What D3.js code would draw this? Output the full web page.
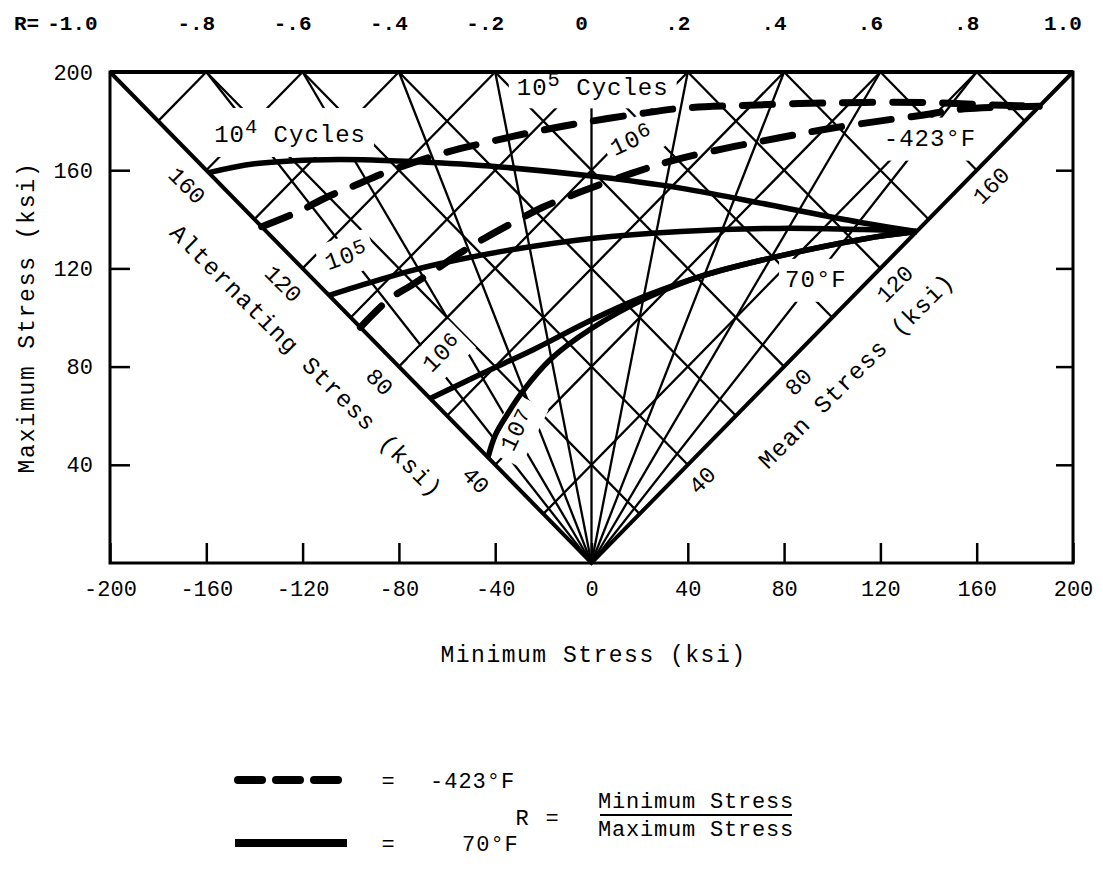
<!DOCTYPE html>
<html><head><meta charset="utf-8">
<script src="https://cdn.jsdelivr.net/npm/d3@7"></script>
<style>
body{margin:0;background:#fff;}
svg text{font-family:"Liberation Mono","DejaVu Sans Mono",monospace;fill:#000;}
</style></head><body>
<svg id="chart" width="1103" height="890"></svg>
<script>
// ---------- data ----------
const xTicks = [-200,-160,-120,-80,-40,0,40,80,120,160,200];
const yTicks = [40,80,120,160,200];
const rValues = [-1,-0.8,-0.6,-0.4,-0.2,0,0.2,0.4,0.6,0.8,1];
const rLabels = ["-1.0","-.8","-.6","-.4","-.2","0",".2",".4",".6",".8","1.0"];
const saGrid = [20,40,60,80,100,120,140,160,180];
const smGrid = [20,40,60,80,100,120,140,160,180];
const rGrid = [-0.8,-0.6,-0.4,-0.2,0,0.2,0.4,0.6,0.8];
const altLabels = [40,80,120,160];
const meanLabels = [40,80,120,160];

// 70°F (solid) constant-life curves: [min stress, max stress]
const solid1e4 = [[-159,159],[-140,162.6],[-116,164.2],[-95,164.3],[-74,163.5],[-39,161.4],[0,157.6],[37,152.7],[78,145.1],[113,138.5],[135,135]];
const solid1e5 = [[-109,109],[-90,114.8],[-74,119.3],[-55,123.6],[-32,127.8],[0,132.2],[37,135],[78,136.3],[113,135.8],[135,135]];
const solid1e6 = [[-67,67],[-45,77.4],[-24,87],[0,99],[23,109],[46,117],[77,124.8],[113,132],[135,135]];
const solid1e7 = [[-43,43],[-40,52],[-35,60.5],[-28.5,70],[-17,83],[0,95.5],[23,108],[46,117],[77,124.8],[113,132],[135,135]];
// -423°F (dashed) curves
const dash1e5 = [[-137,137],[-122,143],[-110,149],[-99,153.5],[-85,159.3],[-60,167.4],[-45,171],[-24,175.6],[-3.5,179.4],[20,183],[37,185.2],[60,186.3],[99,187.4],[139,187.6],[160,186.8],[186,186]];
const dash1e6 = [[-96,96],[-84,107.5],[-75,113],[-64,120],[-55,126],[-44,132.5],[-30,140],[-20,145],[-5,151],[16,158.5],[34,164],[56,169],[77,173],[96,176.5],[118,179.8],[138,182.5],[155,185],[186,186]];

// ---------- setup ----------
const svg = d3.select("#chart");
const x = d3.scaleLinear().domain([-200,200]).range([110,1073]);
const y = d3.scaleLinear().domain([0,200]).range([563,72]);

const gGrid = svg.append("g");
const gLabels = svg.append("g");
const gEdges = svg.append("g");
const gCurves = svg.append("g");

// grid lines
const gridLine = (p, q) => gGrid.append("line")
  .attr("x1", x(p[0])).attr("y1", y(p[1])).attr("x2", x(q[0])).attr("y2", y(q[1]))
  .attr("stroke","#000").attr("stroke-width",2.3);
saGrid.forEach(s => gridLine([-s,s],[200-2*s,200]));
smGrid.forEach(s => gridLine([s,s],[2*s-200,200]));
rGrid.forEach(r => gridLine([0,0],[200*r,200]));

// annotation labels with white masks
function label(cx, cy, rot, parts, opts={}) {
  const size = opts.size || 24, pad = opts.pad || [6,6], raise = opts.raise==null ? 9 : opts.raise;
  const g = gLabels.append("g").attr("transform",`translate(${x(cx)},${y(cy)}) rotate(${rot})`);
  const rect = g.append("rect").attr("fill","#fff");
  const t = g.append("text").attr("text-anchor","middle").attr("dy","0.35em")
    .attr("font-size",size).attr("letter-spacing", opts.ls==null?1:opts.ls);
  parts.forEach(p => {
    if (p.sup) t.append("tspan").attr("dy",-raise).attr("font-size",size*0.85).text(p.t);
    else t.append("tspan").attr("dy", p.after? raise:0).text(p.t);
  });
  const b = t.node().getBBox();
  rect.attr("x",b.x-pad[0]).attr("y",b.y-pad[1]).attr("width",b.width+2*pad[0]).attr("height",b.height+2*pad[1]);
}
label(-125.2,171.5,0,[{t:"10"},{t:"4",sup:true},{t:" Cycles",after:true}],{pad:[8,8]});
label(0.5,190.5,0,[{t:"10"},{t:"5",sup:true},{t:" Cycles",after:true}],{pad:[8,6]});
label(-100.7,122.2,-20,[{t:"10"},{t:"5",sup:true}],{pad:[6,5],raise:5});
label(18,169.5,-25,[{t:"10"},{t:"6",sup:true}],{pad:[6,5],raise:5});
label(-60,83.5,-45,[{t:"10"},{t:"6",sup:true}],{pad:[6,6],raise:4});
label(-28.5,53,-64,[{t:"10"},{t:"7",sup:true}],{pad:[10,6],raise:2});
label(140.6,170,0,[{t:"-423°F"}],{pad:[6,8]});
label(93.2,112.5,0,[{t:"70°F"}],{pad:[6,8]});

// edge labels (outside triangle)
function edgeText(px, py, rot, txt, size, ls) {
  svg.append("text").attr("transform",`translate(${px},${py}) rotate(${rot})`)
    .attr("text-anchor","middle").attr("dy","0.35em").attr("font-size",size)
    .attr("letter-spacing",ls).text(txt);
}
altLabels.forEach(v => edgeText(x(-v)-19, y(v)+15, 45, v, 23, 0));
meanLabels.forEach(v => edgeText(x(v)+14, y(v)+15, -45, v, 23, 0));
edgeText(x(-100)-44, y(100)+43, 45, "Alternating Stress (ksi)", 24, 1.2);
edgeText(x(94)+38, y(94)+38, -45, "Mean Stress (ksi)", 24, 1.2);

// frame & axes
svg.append("rect").attr("x",x(-200)).attr("y",y(200)).attr("width",x(200)-x(-200)).attr("height",y(0)-y(200))
  .attr("fill","none").attr("stroke","#000").attr("stroke-width",3);
const ax = svg.append("g").attr("transform",`translate(0,${y(0)})`)
  .call(d3.axisBottom(x).tickValues(xTicks).tickSize(-20).tickPadding(17).tickFormat(d=>d));
const ay = svg.append("g").attr("transform",`translate(${x(-200)},0)`)
  .call(d3.axisLeft(y).tickValues(yTicks).tickSize(-20).tickPadding(17).tickFormat(d=>d));
const ar = svg.append("g").attr("transform",`translate(${x(200)},0)`)
  .call(d3.axisRight(y).tickValues(yTicks.filter(v=>v<200)).tickSize(-17).tickFormat(""));
[ax,ay,ar].forEach(a => {
  a.select(".domain").remove();
  a.selectAll(".tick line").attr("stroke","#000").attr("stroke-width",2.5);
  a.selectAll("text").attr("font-size",22).attr("font-family","Liberation Mono").attr("fill","#000");
});

// R scale on top
const rFont = 21;
const rHead = svg.append("text").attr("x",14).attr("y",30).attr("font-size",rFont).attr("font-weight","bold").text("R=");
const rHeadEnd = rHead.node().getBBox().x + rHead.node().getBBox().width;
svg.append("g").selectAll("text").data(rValues).join("text")
  .attr("x",(d,i)=> i===0 ? rHeadEnd + 8 : x(d*200)-10)
  .attr("text-anchor",(d,i)=> i===0 ? "start" : "middle")
  .attr("y",30).attr("font-size",rFont).attr("font-weight","bold")
  .text((d,i)=>rLabels[i]);

// axis titles
svg.append("text").attr("x",x(0)+2).attr("y",662).attr("text-anchor","middle")
  .attr("font-size",23).attr("letter-spacing",1.5).text("Minimum Stress (ksi)");
svg.append("text").attr("transform",`translate(34,${y(100)}) rotate(-90)`).attr("text-anchor","middle")
  .attr("font-size",23).attr("letter-spacing",1.8).text("Maximum Stress (ksi)");

// triangle edges
gEdges.append("path").attr("d",`M${x(-200)},${y(200)}L${x(0)},${y(0)}L${x(200)},${y(200)}`)
  .attr("fill","none").attr("stroke","#000").attr("stroke-width",4).attr("stroke-linejoin","miter");
gEdges.append("line").attr("x1",x(-200)).attr("x2",x(200)).attr("y1",y(200)).attr("y2",y(200))
  .attr("stroke","#000").attr("stroke-width",4);

// curves
const line = d3.line().x(d=>x(d[0])).y(d=>y(d[1])).curve(d3.curveCatmullRom.alpha(0.5));
[solid1e4,solid1e5,solid1e6,solid1e7].forEach(c => gCurves.append("path").attr("d",line(c))
  .attr("fill","none").attr("stroke","#000").attr("stroke-width",5.5));
[dash1e5,dash1e6].forEach(c => gCurves.append("path").attr("d",line(c))
  .attr("fill","none").attr("stroke","#000").attr("stroke-width",7)
  .attr("stroke-dasharray","30,20").attr("stroke-linecap","round"));

// legend
const lg = svg.append("g");
lg.append("line").attr("x1",238).attr("x2",345).attr("y1",780).attr("y2",780)
  .attr("stroke","#000").attr("stroke-width",8).attr("stroke-dasharray","24,14").attr("stroke-linecap","round");
lg.append("line").attr("x1",235).attr("x2",347).attr("y1",843).attr("y2",843)
  .attr("stroke","#000").attr("stroke-width",8);
lg.append("text").attr("x",388).attr("y",788).attr("text-anchor","middle").attr("font-size",22).text("=");
lg.append("text").attr("x",388).attr("y",851).attr("text-anchor","middle").attr("font-size",22).text("=");
lg.append("text").attr("x",430).attr("y",788).attr("font-size",22).attr("letter-spacing",1).text("-423°F");
lg.append("text").attr("x",462).attr("y",851).attr("font-size",22).attr("letter-spacing",1).text("70°F");
lg.append("text").attr("x",522).attr("y",825).attr("text-anchor","middle").attr("font-size",22).text("R");
lg.append("text").attr("x",552).attr("y",825).attr("text-anchor","middle").attr("font-size",22).text("=");
lg.append("text").attr("x",696).attr("y",808).attr("text-anchor","middle").attr("font-size",22).attr("letter-spacing",0.8).text("Minimum Stress");
lg.append("line").attr("x1",600).attr("x2",792).attr("y1",815).attr("y2",815).attr("stroke","#000").attr("stroke-width",2);
lg.append("text").attr("x",696).attr("y",836).attr("text-anchor","middle").attr("font-size",22).attr("letter-spacing",0.8).text("Maximum Stress");
</script>
</body></html>
